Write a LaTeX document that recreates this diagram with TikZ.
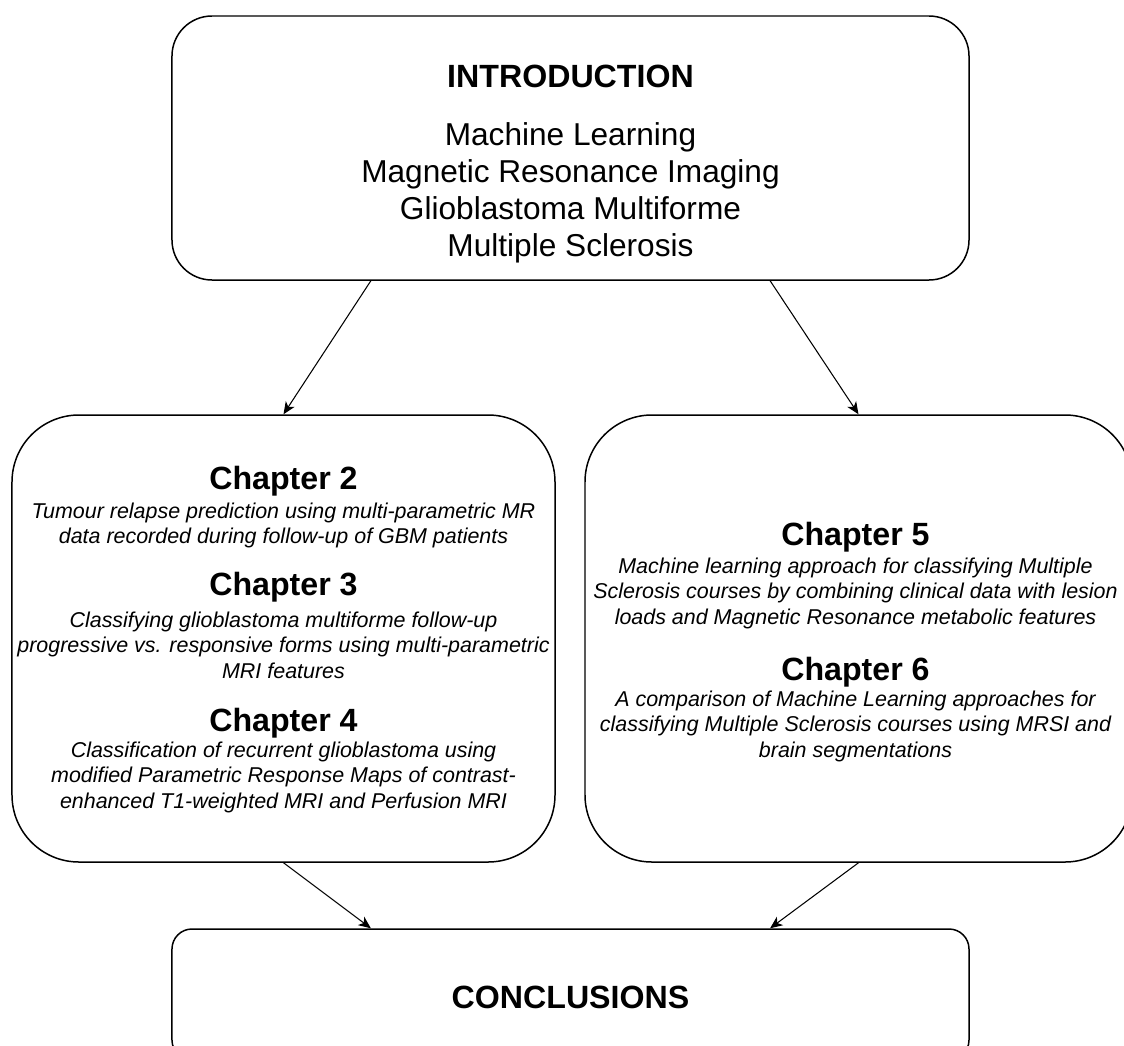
\documentclass[tikz,border=0pt]{standalone}
\usepackage{fontspec}
\setmainfont{Liberation Sans}
\usetikzlibrary{calc,arrows.meta}

\begin{document}
\begin{tikzpicture}[x=0.2mm, y=-0.2mm, line width=0.85pt,
  box/.style={draw, inner sep=0pt},
  big/.style={font=\fontsize{18}{21}\selectfont, inner sep=0pt, align=center},
  head/.style={font=\bfseries\fontsize{18.3}{21}\selectfont, inner sep=0pt, anchor=base},
  desc/.style={font=\itshape\fontsize{12.2}{14.5}\selectfont, inner sep=0pt, align=center, anchor=north},
  link/.style={line width=0.6pt, -{Stealth[length=7pt,width=6pt,inset=2pt]}}]

\useasboundingbox (0,0) rectangle (1124,1046);

\node[box, rounded corners=8mm, minimum width=159.4mm, minimum height=52.8mm] (intro) at (570.5,148) {};
\node[box, rounded corners=13.4mm, minimum width=108.6mm, minimum height=89.4mm] (gbm) at (283.5,638.5) {};
\node[box, rounded corners=13.4mm, minimum width=109.4mm, minimum height=89.4mm] (ms) at (858.5,638.5) {};
\node[box, rounded corners=4mm, minimum width=159.4mm, minimum height=26.2mm] (concl) at (570.5,994.5) {};

\node[head] (t-intro) at (570.5,87) {INTRODUCTION};
\node[big, anchor=north] (l-intro) at (570.5,122) {Machine Learning\\Magnetic Resonance Imaging\\Glioblastoma Multiforme\\Multiple Sclerosis};

\node[head] (h2) at (283.5,489) {Chapter 2};
\node[desc] (d2) at (283.5,502) {Tumour relapse prediction using multi-parametric MR\\data recorded during follow-up of GBM patients};
\node[head] (h3) at (283.5,595) {Chapter 3};
\node[desc] (d3) at (283.5,611) {Classifying glioblastoma multiforme follow-up\\progressive vs. responsive forms using multi-parametric\\MRI features};
\node[head] (h4) at (283.5,731) {Chapter 4};
\node[desc] (d4) at (283.5,741) {Classification of recurrent glioblastoma using\\modified Parametric Response Maps of contrast-\\enhanced T1-weighted MRI and Perfusion MRI};

\node[head] (h5) at (855.5,545) {Chapter 5};
\node[desc] (d5) at (855.5,557) {Machine learning approach for classifying Multiple\\Sclerosis courses by combining clinical data with lesion\\loads and Magnetic Resonance metabolic features};
\node[head] (h6) at (855.5,680) {Chapter 6};
\node[desc] (d6) at (855.5,690) {A comparison of Machine Learning approaches for\\classifying Multiple Sclerosis courses using MRSI and\\brain segmentations};

\node[head] (t-concl) at (570.5,1008) {CONCLUSIONS};

\coordinate (a1) at ($(intro.south west)!0.25!(intro.south east)$);
\coordinate (a2) at ($(intro.south west)!0.75!(intro.south east)$);
\coordinate (b1) at ($(concl.north west)!0.25!(concl.north east)$);
\coordinate (b2) at ($(concl.north west)!0.75!(concl.north east)$);

\draw[link] (a1) -- (gbm.north);
\draw[link] (a2) -- (ms.north);
\draw[link] (gbm.south) -- (b1);
\draw[link] (ms.south) -- (b2);
\end{tikzpicture}
\end{document}
